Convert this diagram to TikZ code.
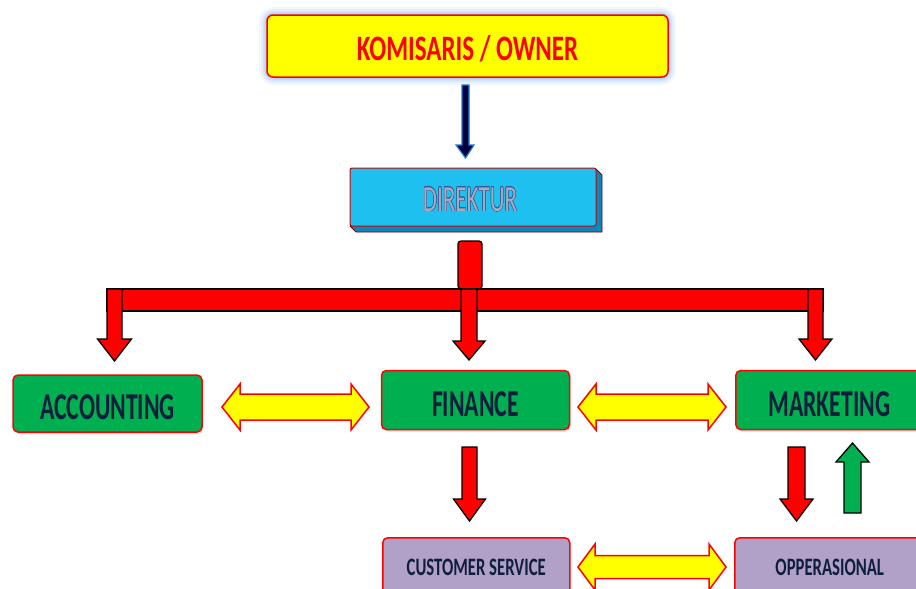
\documentclass[tikz,border=0pt]{standalone}
\usepackage{fontspec}
\usepackage{graphicx}
\usepackage{contour}
\usetikzlibrary{shadows}
\newfontfamily\carl{Carlito}
\definecolor{kred}{HTML}{FF0000}
\definecolor{kyel}{HTML}{FFFF00}
\definecolor{kgreen}{HTML}{00B050}
\definecolor{kpurp}{HTML}{B1A0C7}
\definecolor{kcyan}{HTML}{1EC0F0}
\definecolor{kcyand}{HTML}{0B86B8}
\definecolor{knavy}{HTML}{0F1E3D}
\definecolor{kglow}{HTML}{8EB8EE}
\definecolor{kblue}{HTML}{1F7FD0}
\definecolor{kdirtxt}{HTML}{A4ADB8}
\definecolor{kdirln}{HTML}{3558A0}
\newcommand\tallt[2][1.5]{\scalebox{1}[#1]{#2}}
\newcommand\lowr[2]{\raisebox{-#1}[\height][\depth]{#2}}
\newcommand\blkdown[6]{% xc, ytop, ytip, shaft half, head half, head len
  \draw[blk] (#1-#4,#2) -- (#1+#4,#2) -- (#1+#4,#3-#6) -- (#1+#5,#3-#6) -- (#1,#3)
    -- (#1-#5,#3-#6) -- (#1-#4,#3-#6) -- cycle;}
\newcommand\blkup[6]{% xc, ybottom, ytip, shaft half, head half, head len
  \draw[blkg] (#1-#4,#2) -- (#1+#4,#2) -- (#1+#4,#3+#6) -- (#1+#5,#3+#6) -- (#1,#3)
    -- (#1-#5,#3+#6) -- (#1-#4,#3+#6) -- cycle;}
\newcommand\blkdbl[6]{% x1, x2, yc, shaft half, head half, head len
  \draw[dbl] (#1,#3) -- (#1+#6,#3-#5) -- (#1+#6,#3-#4) -- (#2-#6,#3-#4) -- (#2-#6,#3-#5)
    -- (#2,#3) -- (#2-#6,#3+#5) -- (#2-#6,#3+#4) -- (#1+#6,#3+#4) -- (#1+#6,#3+#5) -- cycle;}
\tikzset{
  blk/.style={fill=kred, draw=black, line width=1.3pt, line join=miter},
  blkg/.style={fill=kgreen, draw=black, line width=1.3pt, line join=miter},
  dbl/.style={fill=kyel, draw=kred, line width=1.5pt, line join=miter},
  gbox/.style={rectangle, rounded corners=5pt, fill=kgreen, draw=kred, line width=1.5pt,
    drop shadow={opacity=0.25, shadow xshift=1pt, shadow yshift=-2pt},
    text=knavy, font=\carl\bfseries\fontsize{23.7}{26}\selectfont, inner sep=0pt},
  pbox/.style={rectangle, rounded corners=5pt, fill=kpurp, draw=kred, line width=1.5pt,
    text=knavy, font=\carl\bfseries\fontsize{16.7}{19}\selectfont, inner sep=0pt},
}
\begin{document}
\begin{tikzpicture}[x=1pt, y=-1pt]
\useasboundingbox (0,0) rectangle (916,589);
\fill[white] (0,0) rectangle (916,589);

% glow of top box
\foreach \w/\o in {16/0.1,12/0.14,8/0.2,5/0.28,2.5/0.4}
  \draw[kglow, opacity=\o, line width=\w pt, rounded corners=7pt] (267,15) rectangle (668,77);
\node[rectangle, rounded corners=6pt, fill=kyel, draw=kred, line width=1.5pt,
      minimum width=401pt, minimum height=62pt, inner sep=0pt,
      font=\carl\bfseries\fontsize{25}{28}\selectfont, text=kred] (kom) at (467.5,46)
      {\lowr{2.5pt}{\tallt[1.43]{KOMISARIS / OWNER}}};

% direktur (3D box)
\fill[kcyand, draw=kred!50!black, line width=0.8pt, line join=round]
  (596,169) -- (602,175) -- (602,232) -- (356,232) -- (350,226) -- cycle;
\node[rectangle, rounded corners=2pt, fill=kcyan, draw=kred!80!black, line width=1pt,
      minimum width=246pt, minimum height=58pt, inner sep=0pt,
      font=\carl\fontsize{23}{26}\selectfont] (dir) at (473,197)
      {\contourlength{0.35pt}\hspace*{-6pt}\lowr{3pt}{\tallt[1.6]{\contour{kdirln}{\color{kdirtxt}DIREKTUR}}}};

% blue arrow
\coordinate (ba1) at (465.5,85);
\coordinate (ba2) at (465.5,158);
\draw[fill=black!75!blue, draw=kblue, line width=1.2pt] (462,85) -- (469,85) -- (469,145) -- (474,145)
  -- (ba2) -- (456,145) -- (462,145) -- cycle;

% green boxes
\node[gbox, minimum width=189pt, minimum height=57pt] (acc) at (107.5,403.5) {\lowr{4pt}{\tallt[1.6]{ACCOUNTING}}};
\node[gbox, minimum width=188pt, minimum height=59pt] (fin) at (475.5,400) {\lowr{4pt}{\tallt[1.6]{FINANCE}}};
\node[gbox, minimum width=190pt, minimum height=59pt, anchor=west] (mkt) at (735,400) {\hspace*{27pt}\lowr{4pt}{\tallt[1.6]{MARKETING}}\hspace*{30pt}};

% purple boxes
\node[pbox, minimum width=187pt, minimum height=60pt, anchor=north west] (cs) at (382,537)
  {\raisebox{-4pt}{\tallt[1.5]{CUSTOMER SERVICE}}};
\node[pbox, minimum width=190pt, minimum height=60pt, anchor=north west] (op) at (734,537)
  {\raisebox{-4pt}{\hspace*{40pt}\tallt[1.5]{OPPERASIONAL}\hspace*{40pt}}};

% red distribution connector
\draw[blk, rounded corners=3pt] (458,241) rectangle (482,289);
\draw[blk] (107,289) rectangle (823,311);
\blkdown{114.5}{289}{361}{7.5}{17}{22}
\blkdown{469}{289}{360}{8}{16}{19}
\blkdown{815.5}{289}{360}{7.5}{16.5}{21}

% double arrows
\blkdbl{222}{369}{407}{13}{23}{18}
\blkdbl{578}{726}{407}{13}{23}{18}
\blkdbl{578}{726}{567}{11.5}{23}{17}

% lower arrows
\blkdown{469.5}{447}{521}{7.5}{16}{22}
\blkdown{796.5}{447}{521}{8.5}{16.5}{22}
\blkup{852.5}{513}{443}{8.5}{16.5}{19}
\end{tikzpicture}
\end{document}
